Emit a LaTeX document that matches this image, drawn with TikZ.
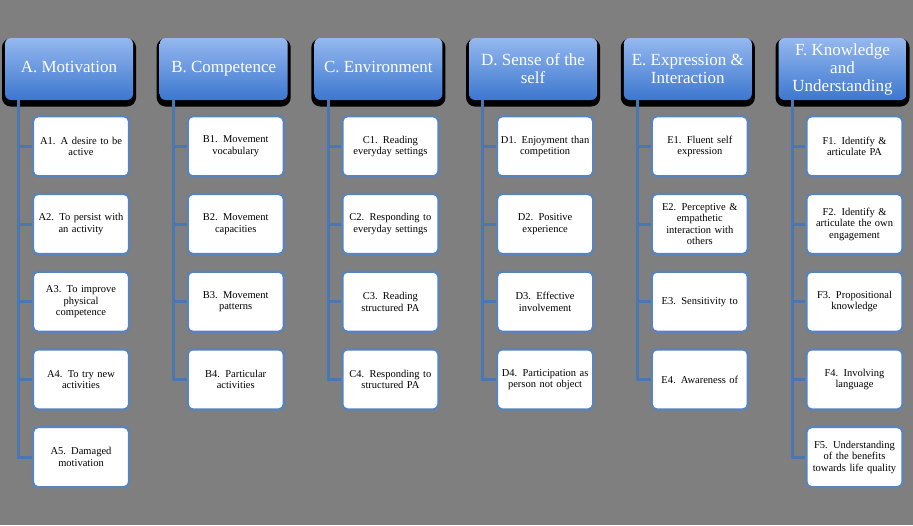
\documentclass[tikz,border=0pt]{standalone}
\usepackage{fontspec}
\setmainfont{Liberation Serif}
\usetikzlibrary{positioning}
\definecolor{canvas}{HTML}{7F7F7F}
\definecolor{hdtop}{HTML}{95B8EF}
\definecolor{hdbot}{HTML}{3C77CF}
\definecolor{edge}{HTML}{5883BC}
\definecolor{stem}{HTML}{4A76B2}
\tikzset{
  head/.style={rounded corners=6pt,top color=hdtop,bottom color=hdbot,minimum width=128pt,minimum height=62pt,
    inner sep=2pt,align=center,text=white,font=\fontsize{17}{18}\selectfont,
    preaction={draw=black,fill=black,line width=6pt,transform canvas={yshift=-3.5pt}}},
  leaf/.style={rounded corners=5pt,draw=edge,line width=2.2pt,fill=white,minimum width=96pt,minimum height=60pt,
    text width=92pt,align=center,inner sep=1pt,font=\fontsize{10.5}{11.5}\selectfont},
  link/.style={draw=stem,line width=3pt},
  every node/.style={font=\fontsize{10.5}{11.5}\selectfont}
}
\begin{document}
\begin{tikzpicture}[x=1pt,y=-1pt]
\fill[canvas] (0,0) rectangle (913,525);
\useasboundingbox (0,0) rectangle (913,525);

% category headers
\node[head] (hA) at (69,69) {A. Motivation\strut};
\node[head,right=26.3pt of hA] (hB) {B. Competence\strut};
\node[head,right=26.3pt of hB] (hC) {C. Environment\strut};
\node[head,right=26.3pt of hC] (hD) {D. Sense of the\\self};
\node[head,right=26.3pt of hD] (hE) {E. Expression \&\\Interaction};
\node[head,right=26.3pt of hE] (hF) {F. Knowledge\\and\\Understanding};

% A
\node[leaf,below=15pt of hA,xshift=12pt] (a1) {A1. A desire to be\\active};
\node[leaf,below=15.5pt of a1] (a2) {A2. To persist with\\an activity};
\node[leaf,below=15.5pt of a2] (a3) {A3. To improve\\physical\\competence};
\node[leaf,below=15.5pt of a3] (a4) {A4. To try new\\activities};
\node[leaf,below=15.5pt of a4] (a5) {A5. Damaged\\motivation};

% B
\node[leaf,below=15pt of hB,xshift=12pt] (b1) {B1. Movement\\vocabulary};
\node[leaf,below=15.5pt of b1] (b2) {B2. Movement\\capacities};
\node[leaf,below=15.5pt of b2] (b3) {B3. Movement\\patterns};
\node[leaf,below=15.5pt of b3] (b4) {B4. Particular\\activities};

% C
\node[leaf,below=15pt of hC,xshift=12pt] (c1) {C1. Reading\\everyday settings};
\node[leaf,below=15.5pt of c1] (c2) {C2. Responding to\\everyday settings};
\node[leaf,below=15.5pt of c2] (c3) {C3. Reading\\structured PA};
\node[leaf,below=15.5pt of c3] (c4) {C4. Responding to\\structured PA};

% D
\node[leaf,below=15pt of hD,xshift=12pt] (d1) {D1. Enjoyment than\\competition};
\node[leaf,below=15.5pt of d1] (d2) {D2. Positive\\experience};
\node[leaf,below=15.5pt of d2] (d3) {D3. Effective\\involvement};
\node[leaf,below=15.5pt of d3] (d4) {D4. Participation as\\person not object};

% E
\node[leaf,below=15pt of hE,xshift=12pt] (e1) {E1. Fluent self\\expression};
\node[leaf,below=15.5pt of e1] (e2) {E2. Perceptive \&\\empathetic\\interaction with\\others};
\node[leaf,below=15.5pt of e2] (e3) {E3. Sensitivity to};
\node[leaf,below=15.5pt of e3] (e4) {E4. Awareness of};

% F
\node[leaf,below=15pt of hF,xshift=12pt] (f1) {F1. Identify \&\\articulate PA};
\node[leaf,below=15.5pt of f1] (f2) {F2. Identify \&\\articulate the own\\engagement};
\node[leaf,below=15.5pt of f2] (f3) {F3. Propositional\\knowledge};
\node[leaf,below=15.5pt of f3] (f4) {F4. Involving\\language};
\node[leaf,below=15.5pt of f4] (f5) {F5. Understanding\\of the benefits\\towards life quality};

% trunks
\coordinate (tA) at ([xshift=14pt]hA.south west);
\coordinate (tB) at ([xshift=14pt]hB.south west);
\coordinate (tC) at ([xshift=14pt]hC.south west);
\coordinate (tD) at ([xshift=14pt]hD.south west);
\coordinate (tE) at ([xshift=14pt]hE.south west);
\coordinate (tF) at ([xshift=14pt]hF.south west);

\draw[link] (tA) |- (a1.west);
\draw[link] (tA) |- (a2.west);
\draw[link] (tA) |- (a3.west);
\draw[link] (tA) |- (a4.west);
\draw[link] (tA) |- (a5.west);
\draw[link] (tB) |- (b1.west);
\draw[link] (tB) |- (b2.west);
\draw[link] (tB) |- (b3.west);
\draw[link] (tB) |- (b4.west);
\draw[link] (tC) |- (c1.west);
\draw[link] (tC) |- (c2.west);
\draw[link] (tC) |- (c3.west);
\draw[link] (tC) |- (c4.west);
\draw[link] (tD) |- (d1.west);
\draw[link] (tD) |- (d2.west);
\draw[link] (tD) |- (d3.west);
\draw[link] (tD) |- (d4.west);
\draw[link] (tE) |- (e1.west);
\draw[link] (tE) |- (e2.west);
\draw[link] (tE) |- (e3.west);
\draw[link] (tE) |- (e4.west);
\draw[link] (tF) |- (f1.west);
\draw[link] (tF) |- (f2.west);
\draw[link] (tF) |- (f3.west);
\draw[link] (tF) |- (f4.west);
\draw[link] (tF) |- (f5.west);
\end{tikzpicture}
\end{document}
